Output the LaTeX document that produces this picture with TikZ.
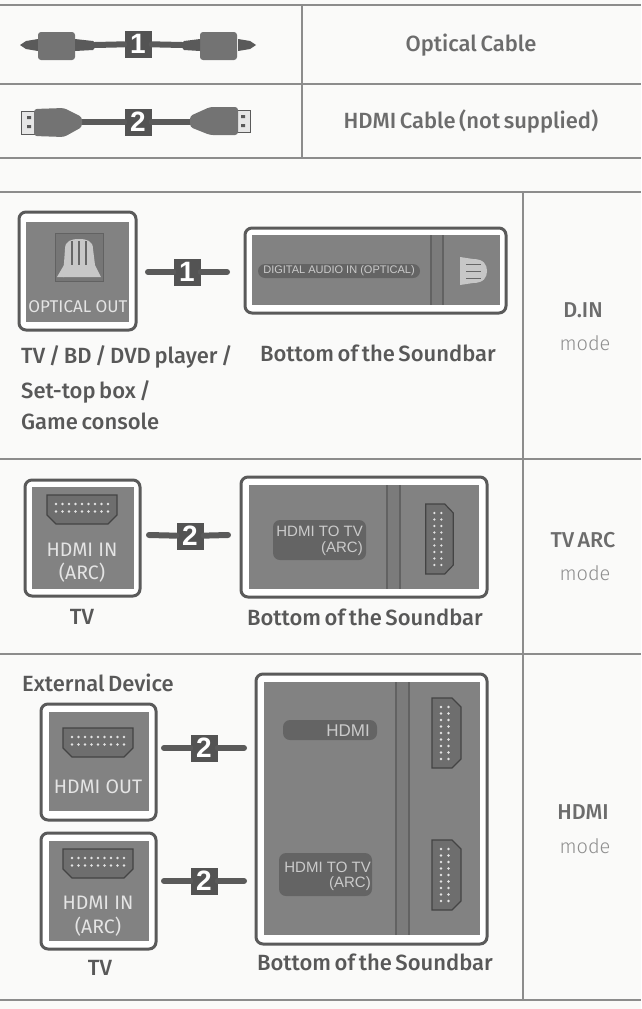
\documentclass[tikz,border=0pt]{standalone}
\usepackage{fontspec}
\setmainfont{Fira Sans}
\newfontfamily\medfont{Fira Sans Medium}[WordSpace=0.65]
\newfontfamily\lightfont{Fira Sans Light}
\newfontfamily\arialfont{Liberation Sans}
\definecolor{paper}{HTML}{FAFAF9}
\definecolor{rule}{HTML}{8C8C8C}
\definecolor{ink}{HTML}{585858}
\definecolor{inklight}{HTML}{8E8E8E}
\definecolor{framecol}{HTML}{5A5A5A}
\definecolor{facecol}{HTML}{828282}
\definecolor{pillcol}{HTML}{646464}
\definecolor{labelcol}{HTML}{E4E4E4}
\tikzset{
    rulel/.style={draw=rule,line width=1.1pt},
    frame/.style={draw=framecol,line width=3pt,rounded corners=7pt,fill=white},
    face/.style={fill=facecol},
    band/.style={fill=facecol!95!black},
    bandedge/.style={draw=framecol!80!facecol,line width=1.2pt},
    pill/.style={fill=pillcol,rounded corners=7pt},
    wire/.style={draw=framecol,line width=6pt,line cap=round},
    plug/.style={fill=framecol!85!white,rounded corners=3pt},
    badge/.style={fill=framecol!92!black,text=white,minimum size=27pt,inner sep=0pt,font=\fontsize{28}{28}\selectfont\arialfont\bfseries},
    caption/.style={text=ink,inner sep=0pt,font=\fontsize{22}{22}\selectfont\medfont},
    modename/.style={text=ink!88!white,inner sep=0pt,font=\fontsize{21.5}{21.5}\selectfont\medfont},
    modeword/.style={text=inklight,inner sep=0pt,font=\fontsize{20}{20}\selectfont\lightfont},
    panellabel/.style={text=labelcol,inner sep=0pt,font=\fontsize{17}{17}\selectfont},
    hdmilabel/.style={text=labelcol,inner sep=0pt,font=\fontsize{19.5}{19.5}\selectfont},
    barlabel/.style={text=labelcol!75!facecol,inner sep=0pt,font=\fontsize{15}{15}\selectfont\arialfont},
    hdmiport/.pic={
        \filldraw[draw=framecol!75!black,fill=framecol!50!facecol,line width=1.2pt]
            (-35,-15) -- (35,-15) -- (35,5) -- (26,14) -- (-26,14) -- (-35,5) -- cycle;
        \foreach \x in {-26,-19.5,...,26} {
            \fill[labelcol] (\x,-6) circle (1.3);
            \fill[labelcol] (\x,1.5) circle (1.3);
        }
    },
    opticalport/.pic={
        \filldraw[draw=framecol!80!facecol,fill=framecol!30!facecol,line width=.8pt] (-24,-24) rectangle (24,24);
        \fill[labelcol!70!facecol] (-16,20) -- (-14,-8) .. controls (-14,-16) and (-8,-18) .. (0,-18)
            .. controls (8,-18) and (14,-16) .. (14,-8) -- (16,8) -- (22,20) -- cycle;
        \fill[labelcol!70!facecol] (-22,20) -- (-15,8) -- (-15,20) -- cycle;
        \draw[framecol!70!facecol,line width=1.2pt] (-7,-16) -- (-7,8) (7,-16) -- (7,8) (0,-16) -- (0,8);
    }
}
\begin{document}
\begin{tikzpicture}[x=1pt,y=-1pt]
    \useasboundingbox (0,0) rectangle (641,1009);
    \fill[paper] (0,0) rectangle (641,1009);

    % table
    \foreach \y in {5,84,158,192,459,654,1000}
        \draw[rulel] (0,\y) -- (641,\y);
    \draw[rulel] (302,5) -- (302,158);
    \draw[rulel] (523,192) -- (523,1000);

    % cables at the top
    \coordinate (opticalL) at (95,45);
    \coordinate (opticalR) at (182,45);
    \coordinate (hdmiL) at (80,122);
    \coordinate (hdmiR) at (190,122);
    \node[badge] (cableone) at (138,44) {1};
    \node[badge] (cabletwo) at (138,122) {2};
    \draw[wire] (opticalL) -- (cableone);
    \draw[wire] (opticalR) -- (cableone);
    \draw[wire] (hdmiL) -- (cabletwo);
    \draw[wire] (hdmiR) -- (cabletwo);

    \fill[framecol] (20,45) -- (26,41) -- (38,39) -- (38,51) -- (26,49) -- cycle;
    \fill[plug] (38,32) rectangle (75,60);
    \fill[framecol] (75,39) -- (93,41) -- (97,45) -- (93,50) -- (75,51) -- cycle;
    \fill[framecol] (256,45) -- (250,41) -- (238,39) -- (238,51) -- (250,49) -- cycle;
    \fill[plug] (200,32) rectangle (237,60);
    \fill[framecol] (200,39) -- (184,41) -- (180,45) -- (184,50) -- (200,51) -- cycle;

    \filldraw[draw=framecol,fill=white!80!facecol,line width=1pt] (21,111) rectangle (36,134);
    \fill[framecol] (27,116) rectangle (31,119) (27,125) rectangle (31,128);
    \fill[plug] (34,109) -- (64,108) -- (82,117) -- (82,127) -- (64,137) -- (34,136) -- cycle;
    \filldraw[draw=framecol,fill=white!80!facecol,line width=1pt] (250,110) rectangle (236,132);
    \fill[framecol] (241,115) rectangle (245,118) (241,124) rectangle (245,127);
    \fill[plug] (238,107) -- (210,107) -- (190,116) -- (190,127) -- (210,135) -- (238,135) -- cycle;

    \node[modename,font=\fontsize{22}{22}\selectfont\medfont] (opticaltext) at (471,45) {Optical Cable};
    \node[modename,font=\fontsize{22}{22}\selectfont\medfont] (hdmitext) at (471,122) {HDMI Cable (not supplied)};

    % optical row
    \draw[frame] (19,212) rectangle (136,330);
    \fill[face] (26,222) rectangle (129,322);
    \pic at (79,257) {opticalport};
    \node[panellabel] (opticalout) at (78,307) {OPTICAL OUT};

    \draw[frame] (245,228) rectangle (506,313);
    \fill[face] (252,235) rectangle (500,305);
    \fill[band] (431,235) rectangle (443,305);
    \draw[bandedge] (431,235) -- (431,305) (443,235) -- (443,305);
    \fill[pill] (258,264) rectangle (420,278);
    \node[barlabel,font=\fontsize{11}{11}\selectfont\arialfont] (digitalin) at (339,271) {DIGITAL AUDIO IN (OPTICAL)};
    \fill[labelcol!70!facecol] (460,257) -- (473,259) .. controls (484,259) and (487,265) .. (487,271)
        .. controls (487,277) and (484,283) .. (473,283) -- (460,285) -- cycle;
    \draw[framecol!70!facecol,line width=1pt] (466,264) -- (481,264) (466,271) -- (481,271) (466,278) -- (481,278);

    \coordinate (stubAl) at (148,272);
    \coordinate (stubAr) at (227,272);
    \node[badge] (badgeA) at (187,272) {1};
    \draw[wire] (stubAl) -- (badgeA);
    \draw[wire] (stubAr) -- (badgeA);

    \node[caption,anchor=base west] (devices) at (21,363) {TV / BD / DVD player /};
    \node[caption,anchor=base west] (settop) at (21,398) {Set-top box /};
    \node[caption,anchor=base west] (console) at (21,429) {Game console};
    \node[caption] (barA) at (378,353) {Bottom of the Soundbar};
    \node[modename] (dinname) at (583,310) {D.IN};
    \node[modeword] (dinmode) at (585,343) {mode};

    % arc row
    \draw[frame] (25,480) rectangle (140,596);
    \fill[face] (32,487) rectangle (134,589);
    \pic at (82,510) {hdmiport};
    \node[hdmilabel] (hdmiinA) at (82,550) {HDMI IN};
    \node[hdmilabel] (arcA) at (82,573) {(ARC)};

    \draw[frame] (241,477) rectangle (487,597);
    \fill[face] (249,485) rectangle (479,589);
    \fill[band] (387,485) rectangle (400,589);
    \draw[bandedge] (387,485) -- (387,589) (400,485) -- (400,589);
    \fill[pill] (273,520) rectangle (366,560);
    \node[barlabel,anchor=east] (tvlabelA) at (363,531) {HDMI TO TV};
    \node[barlabel,anchor=east] (arclabelA) at (363,549) {(ARC)};
    \pic[rotate=90,yscale=.95] at (440,539) {hdmiport};

    \coordinate (stubBl) at (149,535);
    \coordinate (stubBr) at (228,535);
    \node[badge] (badgeB) at (190,536) {2};
    \draw[wire] (stubBl) -- (badgeB);
    \draw[wire] (stubBr) -- (badgeB);

    \node[caption] (tvA) at (82,617) {TV};
    \node[caption] (barB) at (365,617) {Bottom of the Soundbar};
    \node[modename] (arcname) at (583,540) {TV ARC};
    \node[modeword] (arcmode) at (585,573) {mode};

    % hdmi row
    \node[caption,anchor=base west] (external) at (22,691) {External Device};

    \draw[frame] (41,704) rectangle (156,820);
    \fill[face] (49,712) rectangle (149,811);
    \pic at (98,743) {hdmiport};
    \node[hdmilabel] (hdmiout) at (98,787) {HDMI OUT};

    \draw[frame] (41,833) rectangle (156,949);
    \fill[face] (49,841) rectangle (149,941);
    \pic at (98,864) {hdmiport};
    \node[hdmilabel] (hdmiinB) at (98,903) {HDMI IN};
    \node[hdmilabel] (arcB) at (98,927) {(ARC)};

    \draw[frame] (256,674) rectangle (487,944);
    \fill[face] (264,682) rectangle (480,935);
    \fill[band] (396,682) rectangle (409,935);
    \draw[bandedge] (396,682) -- (396,935) (409,682) -- (409,935);
    \fill[pill] (283,720) rectangle (377,740);
    \node[barlabel,anchor=east,font=\fontsize{17}{17}\selectfont\arialfont] (hdmilabel) at (370,731) {HDMI};
    \fill[pill] (279,853) rectangle (372,896);
    \node[barlabel,anchor=east] (tvlabelB) at (371,867) {HDMI TO TV};
    \node[barlabel,anchor=east] (arclabelB) at (371,884) {(ARC)};
    \foreach \y in {733,875}
        \pic[rotate=90] at (447,\y) {hdmiport};

    \coordinate (stubCl) at (164,748);
    \coordinate (stubCr) at (244,748);
    \node[badge] (badgeC) at (204,748) {2};
    \draw[wire] (stubCl) -- (badgeC);
    \draw[wire] (stubCr) -- (badgeC);
    \coordinate (stubDl) at (164,881);
    \coordinate (stubDr) at (244,881);
    \node[badge] (badgeD) at (204,881) {2};
    \draw[wire] (stubDl) -- (badgeD);
    \draw[wire] (stubDr) -- (badgeD);

    \node[caption] (tvB) at (100,968) {TV};
    \node[caption] (barC) at (375,962) {Bottom of the Soundbar};
    \node[modename] (hdminame) at (583,812) {HDMI};
    \node[modeword] (hdmimode) at (585,846) {mode};
\end{tikzpicture}
\end{document}
